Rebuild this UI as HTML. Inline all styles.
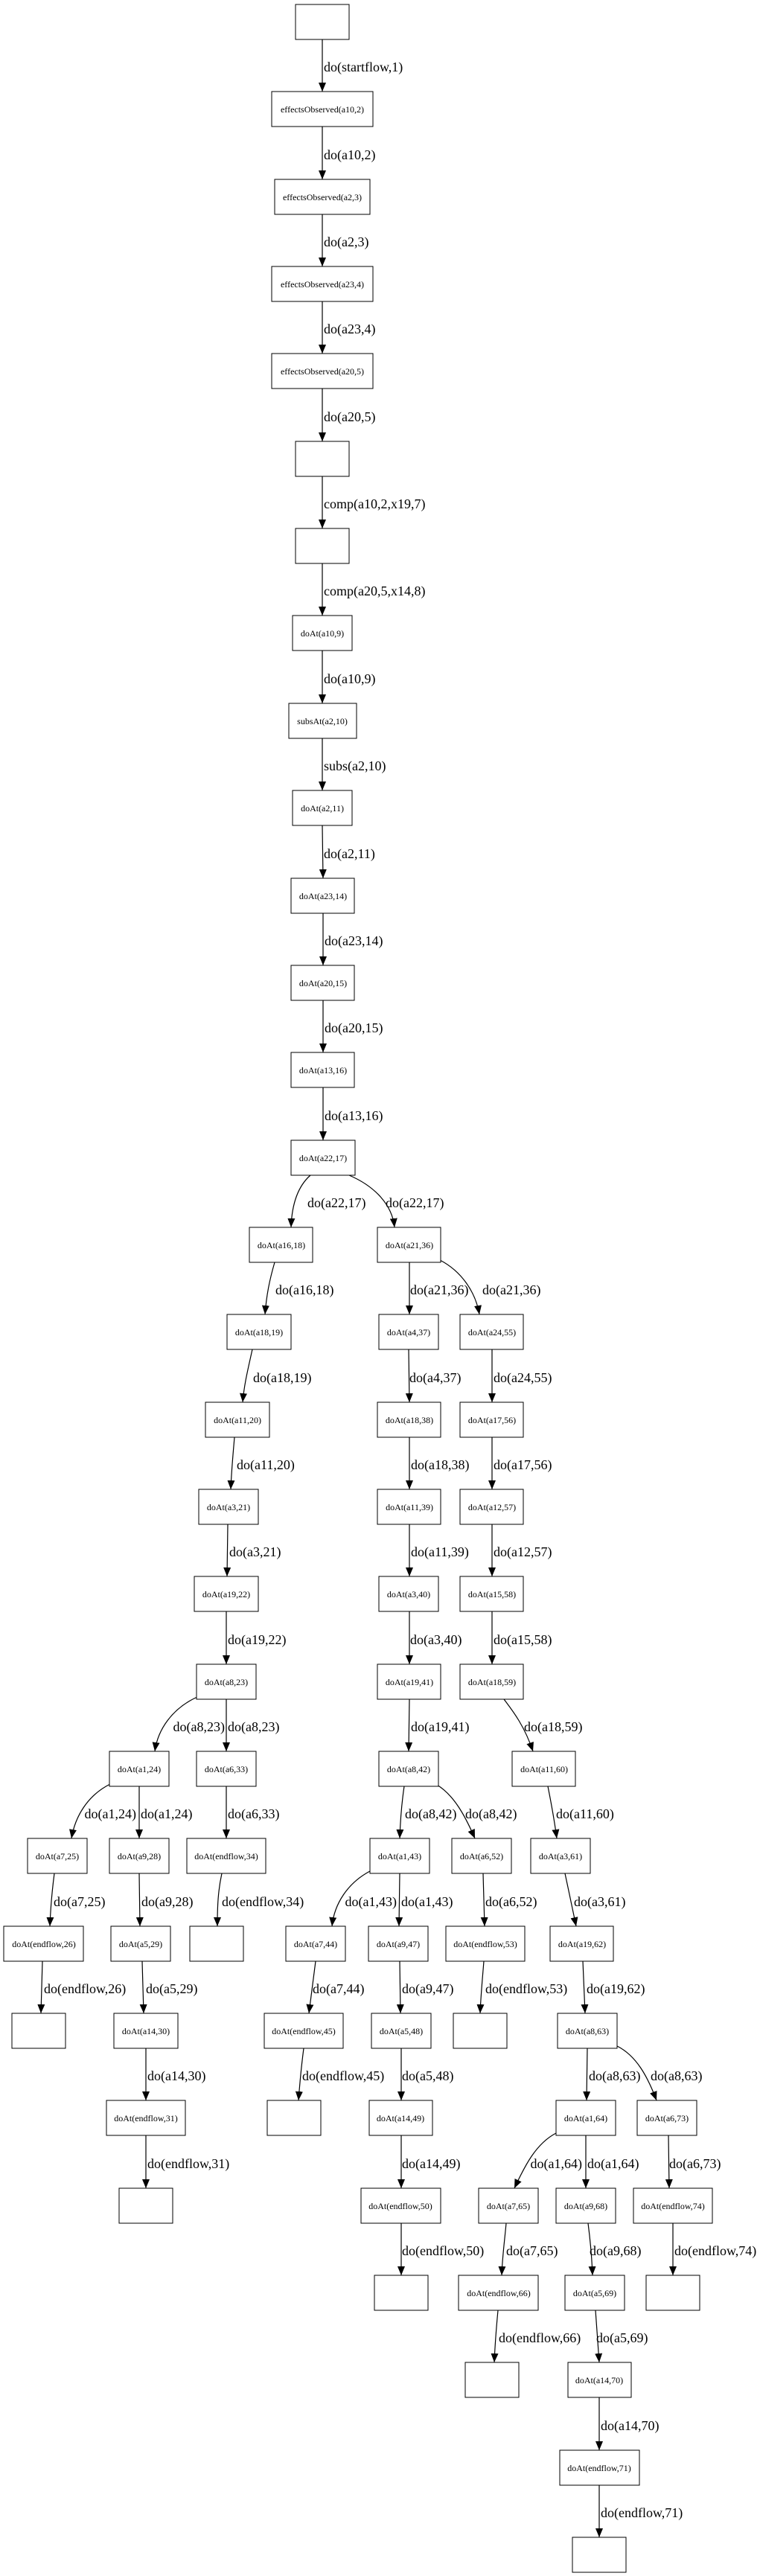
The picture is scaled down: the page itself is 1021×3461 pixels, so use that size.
<!DOCTYPE html>
<html><head><meta charset="utf-8"><style>
html,body{margin:0;padding:0;background:#fff;}
svg{display:block;}
.n{fill:#fff;stroke:#000;stroke-width:1;}
.t{font-family:"Liberation Serif",serif;font-size:12px;text-anchor:middle;fill:#000;}
.l{font-family:"Liberation Serif",serif;font-size:18px;fill:#000;}
.le{font-family:"Liberation Serif",serif;font-size:18px;fill:#000;text-anchor:end;}
.e{stroke:#000;stroke-width:1.2;fill:none;marker-end:url(#ah);}
</style></head><body>
<svg width="1021" height="3461" viewBox="0 0 1021 3461" xmlns="http://www.w3.org/2000/svg">
<defs><marker id="ah" markerUnits="userSpaceOnUse" markerWidth="12" markerHeight="10" refX="12" refY="5" orient="auto"><path d="M0,0 L12,5 L0,10 z" fill="#000"/></marker></defs>
<rect width="1021" height="3461" fill="#fff"/>

<!-- edges -->
<line class="e" x1="433" y1="53" x2="433" y2="123"/>
<line class="e" x1="433" y1="170" x2="433" y2="241"/>
<line class="e" x1="433" y1="288" x2="433" y2="358"/>
<line class="e" x1="433" y1="405" x2="433" y2="475"/>
<line class="e" x1="433" y1="522" x2="433" y2="593"/>
<line class="e" x1="433" y1="640" x2="433" y2="710"/>
<line class="e" x1="433" y1="757" x2="433" y2="827"/>
<line class="e" x1="433" y1="874" x2="433" y2="945"/>
<line class="e" x1="433" y1="992" x2="433" y2="1062"/>
<line class="e" x1="433" y1="1109" x2="434" y2="1180"/>
<line class="e" x1="434" y1="1227" x2="434" y2="1297"/>
<line class="e" x1="434" y1="1344" x2="434" y2="1414"/>
<line class="e" x1="434" y1="1461" x2="434" y2="1532"/>
<path class="e" d="M417 1579 C400 1594 392 1619 391 1649"/>
<path class="e" d="M469 1579 C504 1594 527 1619 530 1649"/>
<path class="e" d="M369 1696 C362 1720 358 1740 356 1766"/>
<path class="e" d="M339 1813 C333 1840 328 1860 326 1884"/>
<path class="e" d="M315 1931 C313 1955 311 1975 310 2001"/>
<line class="e" x1="306" y1="2048" x2="305" y2="2118"/>
<line class="e" x1="304" y1="2165" x2="304" y2="2236"/>
<path class="e" d="M265 2280 C232 2295 212 2323 208 2353"/>
<line class="e" x1="304" y1="2283" x2="304" y2="2353"/>
<path class="e" d="M148 2397 C118 2412 101 2440 96 2470"/>
<line class="e" x1="187" y1="2400" x2="187" y2="2470"/>
<line class="e" x1="304" y1="2400" x2="304" y2="2470"/>
<path class="e" d="M73 2517 C70 2540 68 2560 67 2588"/>
<line class="e" x1="187" y1="2517" x2="188" y2="2588"/>
<path class="e" d="M298 2517 C293 2540 292 2560 292 2588"/>
<line class="e" x1="57" y1="2635" x2="55" y2="2705"/>
<line class="e" x1="191" y1="2635" x2="193" y2="2705"/>
<line class="e" x1="196" y1="2752" x2="196" y2="2822"/>
<line class="e" x1="196" y1="2869" x2="196" y2="2940"/>
<line class="e" x1="550" y1="1696" x2="550" y2="1766"/>
<path class="e" d="M591 1693 C620 1708 639 1736 644 1766"/>
<line class="e" x1="549" y1="1813" x2="550" y2="1884"/>
<line class="e" x1="661" y1="1813" x2="661" y2="1884"/>
<line class="e" x1="550" y1="1931" x2="550" y2="2001"/>
<line class="e" x1="661" y1="1931" x2="661" y2="2001"/>
<line class="e" x1="550" y1="2048" x2="550" y2="2118"/>
<line class="e" x1="661" y1="2048" x2="661" y2="2118"/>
<line class="e" x1="550" y1="2165" x2="550" y2="2236"/>
<line class="e" x1="661" y1="2165" x2="661" y2="2236"/>
<line class="e" x1="550" y1="2283" x2="549" y2="2353"/>
<path class="e" d="M677 2283 C690 2300 705 2320 716 2353"/>
<path class="e" d="M543 2400 C540 2420 538 2440 537 2470"/>
<path class="e" d="M587 2398 C610 2412 625 2440 638 2470"/>
<path class="e" d="M736 2400 C740 2420 744 2440 748 2470"/>
<path class="e" d="M497 2514 C467 2530 449 2558 446 2588"/>
<line class="e" x1="537" y1="2517" x2="536" y2="2588"/>
<line class="e" x1="649" y1="2517" x2="651" y2="2588"/>
<path class="e" d="M759 2517 C764 2540 768 2560 774 2588"/>
<path class="e" d="M424 2635 C421 2660 418 2680 415 2705"/>
<line class="e" x1="537" y1="2635" x2="538" y2="2705"/>
<path class="e" d="M650 2635 C648 2660 646 2680 645 2705"/>
<line class="e" x1="783" y1="2635" x2="786" y2="2705"/>
<path class="e" d="M408 2752 C405 2775 403 2795 401 2822"/>
<line class="e" x1="539" y1="2752" x2="539" y2="2822"/>
<line class="e" x1="789" y1="2752" x2="788" y2="2822"/>
<path class="e" d="M829 2749 C855 2762 870 2790 882 2822"/>
<line class="e" x1="539" y1="2869" x2="539" y2="2940"/>
<path class="e" d="M747 2866 C720 2880 705 2910 691 2940"/>
<line class="e" x1="787" y1="2869" x2="787" y2="2940"/>
<line class="e" x1="898" y1="2869" x2="899" y2="2940"/>
<line class="e" x1="539" y1="2987" x2="539" y2="3057"/>
<path class="e" d="M680 2987 C678 3010 675 3030 674 3057"/>
<path class="e" d="M790 2987 C793 3010 795 3030 796 3057"/>
<line class="e" x1="904" y1="2987" x2="904" y2="3057"/>
<path class="e" d="M669 3104 C667 3125 665 3150 664 3174"/>
<line class="e" x1="800" y1="3104" x2="805" y2="3174"/>
<line class="e" x1="805" y1="3221" x2="805" y2="3292"/>
<line class="e" x1="805" y1="3339" x2="805" y2="3409"/>

<!-- edge labels -->
<text class="l" x="435" y="96">do(startflow,1)</text>
<text class="l" x="435" y="214">do(a10,2)</text>
<text class="l" x="435" y="331">do(a2,3)</text>
<text class="l" x="435" y="448">do(a23,4)</text>
<text class="l" x="435" y="566">do(a20,5)</text>
<text class="l" x="435" y="683">comp(a10,2,x19,7)</text>
<text class="l" x="435" y="800">comp(a20,5,x14,8)</text>
<text class="l" x="435" y="918">do(a10,9)</text>
<text class="l" x="435" y="1035">subs(a2,10)</text>
<text class="l" x="435" y="1153">do(a2,11)</text>
<text class="l" x="436" y="1270">do(a23,14)</text>
<text class="l" x="436" y="1387">do(a20,15)</text>
<text class="l" x="436" y="1505">do(a13,16)</text>
<text class="l" x="413" y="1622">do(a22,17)</text>
<text class="l" x="518" y="1622">do(a22,17)</text>
<text class="l" x="370" y="1739">do(a16,18)</text>
<text class="l" x="340" y="1857">do(a18,19)</text>
<text class="l" x="318" y="1974">do(a11,20)</text>
<text class="l" x="308" y="2091">do(a3,21)</text>
<text class="l" x="306" y="2209">do(a19,22)</text>
<text class="le" x="302" y="2326">do(a8,23)</text>
<text class="l" x="306" y="2326">do(a8,23)</text>
<text class="le" x="183" y="2443">do(a1,24)</text>
<text class="l" x="189" y="2443">do(a1,24)</text>
<text class="l" x="306" y="2443">do(a6,33)</text>
<text class="l" x="72" y="2561">do(a7,25)</text>
<text class="l" x="190" y="2561">do(a9,28)</text>
<text class="l" x="298" y="2561">do(endflow,34)</text>
<text class="l" x="59" y="2678">do(endflow,26)</text>
<text class="l" x="196" y="2678">do(a5,29)</text>
<text class="l" x="198" y="2795">do(a14,30)</text>
<text class="l" x="198" y="2913">do(endflow,31)</text>
<text class="l" x="551" y="1739">do(a21,36)</text>
<text class="l" x="648" y="1739">do(a21,36)</text>
<text class="l" x="550" y="1857">do(a4,37)</text>
<text class="l" x="663" y="1857">do(a24,55)</text>
<text class="l" x="552" y="1974">do(a18,38)</text>
<text class="l" x="663" y="1974">do(a17,56)</text>
<text class="l" x="552" y="2091">do(a11,39)</text>
<text class="l" x="663" y="2091">do(a12,57)</text>
<text class="l" x="551" y="2209">do(a3,40)</text>
<text class="l" x="663" y="2209">do(a15,58)</text>
<text class="l" x="552" y="2326">do(a19,41)</text>
<text class="l" x="704" y="2326">do(a18,59)</text>
<text class="l" x="544" y="2443">do(a8,42)</text>
<text class="l" x="625" y="2443">do(a8,42)</text>
<text class="l" x="747" y="2443">do(a11,60)</text>
<text class="le" x="533" y="2561">do(a1,43)</text>
<text class="l" x="539" y="2561">do(a1,43)</text>
<text class="l" x="652" y="2561">do(a6,52)</text>
<text class="l" x="771" y="2561">do(a3,61)</text>
<text class="l" x="420" y="2678">do(a7,44)</text>
<text class="l" x="540" y="2678">do(a9,47)</text>
<text class="l" x="652" y="2678">do(endflow,53)</text>
<text class="l" x="788" y="2678">do(a19,62)</text>
<text class="l" x="406" y="2795">do(endflow,45)</text>
<text class="l" x="540" y="2795">do(a5,48)</text>
<text class="l" x="791" y="2795">do(a8,63)</text>
<text class="l" x="874" y="2795">do(a8,63)</text>
<text class="l" x="540" y="2913">do(a14,49)</text>
<text class="le" x="782" y="2913">do(a1,64)</text>
<text class="l" x="789" y="2913">do(a1,64)</text>
<text class="l" x="899" y="2913">do(a6,73)</text>
<text class="l" x="540" y="3030">do(endflow,50)</text>
<text class="l" x="680" y="3030">do(a7,65)</text>
<text class="l" x="792" y="3030">do(a9,68)</text>
<text class="l" x="906" y="3030">do(endflow,74)</text>
<text class="l" x="670" y="3147">do(endflow,66)</text>
<text class="l" x="801" y="3147">do(a5,69)</text>
<text class="l" x="807" y="3265">do(a14,70)</text>
<text class="l" x="807" y="3382">do(endflow,71)</text>

<!-- nodes -->
<rect class="n" x="397" y="6" width="72" height="47"/>
<rect class="n" x="365" y="123" width="136" height="47"/><text class="t" x="433" y="151">effectsObserved(a10,2)</text>
<rect class="n" x="369" y="241" width="128" height="47"/><text class="t" x="433" y="269">effectsObserved(a2,3)</text>
<rect class="n" x="365" y="358" width="136" height="47"/><text class="t" x="433" y="386">effectsObserved(a23,4)</text>
<rect class="n" x="365" y="475" width="136" height="47"/><text class="t" x="433" y="503">effectsObserved(a20,5)</text>
<rect class="n" x="397" y="593" width="72" height="47"/>
<rect class="n" x="397" y="710" width="72" height="47"/>
<rect class="n" x="393" y="827" width="80" height="47"/><text class="t" x="433" y="855">doAt(a10,9)</text>
<rect class="n" x="388" y="945" width="91" height="47"/><text class="t" x="433" y="973">subsAt(a2,10)</text>
<rect class="n" x="393" y="1062" width="80" height="47"/><text class="t" x="433" y="1090">doAt(a2,11)</text>
<rect class="n" x="391" y="1180" width="85" height="47"/><text class="t" x="434" y="1208">doAt(a23,14)</text>
<rect class="n" x="391" y="1297" width="85" height="47"/><text class="t" x="434" y="1325">doAt(a20,15)</text>
<rect class="n" x="391" y="1414" width="85" height="47"/><text class="t" x="434" y="1442">doAt(a13,16)</text>
<rect class="n" x="391" y="1532" width="86" height="47"/><text class="t" x="434" y="1560">doAt(a22,17)</text>

<rect class="n" x="335" y="1649" width="85" height="47"/><text class="t" x="378" y="1677">doAt(a16,18)</text>
<rect class="n" x="507" y="1649" width="85" height="47"/><text class="t" x="550" y="1677">doAt(a21,36)</text>

<rect class="n" x="305" y="1766" width="86" height="47"/><text class="t" x="348" y="1794">doAt(a18,19)</text>
<rect class="n" x="509" y="1766" width="80" height="47"/><text class="t" x="549" y="1794">doAt(a4,37)</text>
<rect class="n" x="618" y="1766" width="85" height="47"/><text class="t" x="661" y="1794">doAt(a24,55)</text>

<rect class="n" x="276" y="1884" width="86" height="47"/><text class="t" x="319" y="1912">doAt(a11,20)</text>
<rect class="n" x="507" y="1884" width="85" height="47"/><text class="t" x="550" y="1912">doAt(a18,38)</text>
<rect class="n" x="618" y="1884" width="85" height="47"/><text class="t" x="661" y="1912">doAt(a17,56)</text>

<rect class="n" x="267" y="2001" width="80" height="47"/><text class="t" x="307" y="2029">doAt(a3,21)</text>
<rect class="n" x="507" y="2001" width="85" height="47"/><text class="t" x="550" y="2029">doAt(a11,39)</text>
<rect class="n" x="618" y="2001" width="85" height="47"/><text class="t" x="661" y="2029">doAt(a12,57)</text>

<rect class="n" x="261" y="2118" width="86" height="47"/><text class="t" x="304" y="2146">doAt(a19,22)</text>
<rect class="n" x="509" y="2118" width="80" height="47"/><text class="t" x="549" y="2146">doAt(a3,40)</text>
<rect class="n" x="618" y="2118" width="85" height="47"/><text class="t" x="661" y="2146">doAt(a15,58)</text>

<rect class="n" x="264" y="2236" width="80" height="47"/><text class="t" x="304" y="2264">doAt(a8,23)</text>
<rect class="n" x="507" y="2236" width="85" height="47"/><text class="t" x="550" y="2264">doAt(a19,41)</text>
<rect class="n" x="618" y="2236" width="85" height="47"/><text class="t" x="661" y="2264">doAt(a18,59)</text>

<rect class="n" x="147" y="2353" width="80" height="47"/><text class="t" x="187" y="2381">doAt(a1,24)</text>
<rect class="n" x="264" y="2353" width="80" height="47"/><text class="t" x="304" y="2381">doAt(a6,33)</text>
<rect class="n" x="509" y="2353" width="80" height="47"/><text class="t" x="549" y="2381">doAt(a8,42)</text>
<rect class="n" x="688" y="2353" width="85" height="47"/><text class="t" x="731" y="2381">doAt(a11,60)</text>

<rect class="n" x="37" y="2470" width="80" height="47"/><text class="t" x="77" y="2498">doAt(a7,25)</text>
<rect class="n" x="147" y="2470" width="80" height="47"/><text class="t" x="187" y="2498">doAt(a9,28)</text>
<rect class="n" x="251" y="2470" width="106" height="47"/><text class="t" x="304" y="2498">doAt(endflow,34)</text>
<rect class="n" x="497" y="2470" width="80" height="47"/><text class="t" x="537" y="2498">doAt(a1,43)</text>
<rect class="n" x="607" y="2470" width="80" height="47"/><text class="t" x="647" y="2498">doAt(a6,52)</text>
<rect class="n" x="713" y="2470" width="80" height="47"/><text class="t" x="753" y="2498">doAt(a3,61)</text>

<rect class="n" x="5" y="2588" width="107" height="47"/><text class="t" x="59" y="2616">doAt(endflow,26)</text>
<rect class="n" x="149" y="2588" width="80" height="47"/><text class="t" x="189" y="2616">doAt(a5,29)</text>
<rect class="n" x="255" y="2588" width="72" height="47"/>
<rect class="n" x="384" y="2588" width="80" height="47"/><text class="t" x="424" y="2616">doAt(a7,44)</text>
<rect class="n" x="495" y="2588" width="80" height="47"/><text class="t" x="535" y="2616">doAt(a9,47)</text>
<rect class="n" x="599" y="2588" width="106" height="47"/><text class="t" x="652" y="2616">doAt(endflow,53)</text>
<rect class="n" x="739" y="2588" width="85" height="47"/><text class="t" x="782" y="2616">doAt(a19,62)</text>

<rect class="n" x="16" y="2705" width="72" height="47"/>
<rect class="n" x="153" y="2705" width="86" height="47"/><text class="t" x="196" y="2733">doAt(a14,30)</text>
<rect class="n" x="355" y="2705" width="106" height="47"/><text class="t" x="408" y="2733">doAt(endflow,45)</text>
<rect class="n" x="499" y="2705" width="80" height="47"/><text class="t" x="539" y="2733">doAt(a5,48)</text>
<rect class="n" x="609" y="2705" width="72" height="47"/>
<rect class="n" x="749" y="2705" width="80" height="47"/><text class="t" x="789" y="2733">doAt(a8,63)</text>

<rect class="n" x="143" y="2822" width="106" height="47"/><text class="t" x="196" y="2850">doAt(endflow,31)</text>
<rect class="n" x="359" y="2822" width="72" height="47"/>
<rect class="n" x="496" y="2822" width="85" height="47"/><text class="t" x="538" y="2850">doAt(a14,49)</text>
<rect class="n" x="747" y="2822" width="80" height="47"/><text class="t" x="787" y="2850">doAt(a1,64)</text>
<rect class="n" x="856" y="2822" width="80" height="47"/><text class="t" x="896" y="2850">doAt(a6,73)</text>

<rect class="n" x="160" y="2940" width="72" height="47"/>
<rect class="n" x="485" y="2940" width="107" height="47"/><text class="t" x="538" y="2968">doAt(endflow,50)</text>
<rect class="n" x="643" y="2940" width="80" height="47"/><text class="t" x="683" y="2968">doAt(a7,65)</text>
<rect class="n" x="747" y="2940" width="80" height="47"/><text class="t" x="787" y="2968">doAt(a9,68)</text>
<rect class="n" x="851" y="2940" width="106" height="47"/><text class="t" x="904" y="2968">doAt(endflow,74)</text>

<rect class="n" x="503" y="3057" width="72" height="47"/>
<rect class="n" x="616" y="3057" width="107" height="47"/><text class="t" x="670" y="3085">doAt(endflow,66)</text>
<rect class="n" x="759" y="3057" width="80" height="47"/><text class="t" x="799" y="3085">doAt(a5,69)</text>
<rect class="n" x="868" y="3057" width="72" height="47"/>

<rect class="n" x="625" y="3174" width="72" height="47"/>
<rect class="n" x="763" y="3174" width="85" height="47"/><text class="t" x="805" y="3202">doAt(a14,70)</text>

<rect class="n" x="752" y="3292" width="107" height="47"/><text class="t" x="805" y="3320">doAt(endflow,71)</text>

<rect class="n" x="769" y="3409" width="72" height="47"/>
</svg>
</body></html>
